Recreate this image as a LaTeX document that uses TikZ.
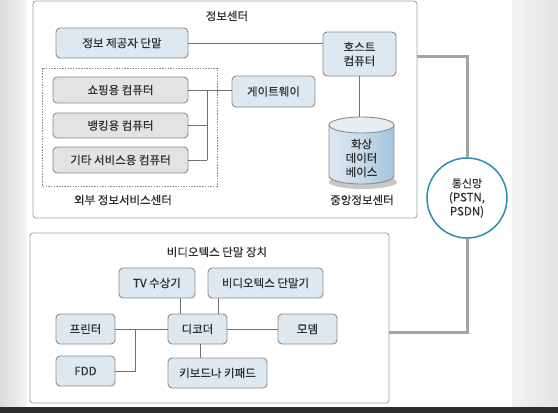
\documentclass[tikz,border=0pt]{standalone}
\usepackage{fontspec}
\setmainfont{Noto Sans CJK KR}[FakeBold=0.35]
\usetikzlibrary{calc}
\definecolor{txt}{HTML}{2E2E2E}
\definecolor{bfill}{HTML}{DDE8F1}
\definecolor{gfill}{HTML}{E3E3E3}
\definecolor{bord}{HTML}{8C8C8C}
\definecolor{frame}{HTML}{A4A4A4}
\definecolor{wire}{HTML}{707070}
\definecolor{thick}{HTML}{A3A3A3}
\definecolor{teal}{HTML}{2A8FAA}
\definecolor{dbdark}{HTML}{A2C4DC}
\tikzset{
  lbl/.style={font=\fontsize{11.5}{14}\selectfont, text=txt, inner sep=0pt, align=center},
  bluebox/.style={lbl, draw=bord, line width=0.9pt, fill=bfill, rounded corners=4pt},
  graybox/.style={lbl, draw=bord, line width=0.9pt, fill=gfill, rounded corners=4pt},
  outerframe/.style={draw=frame, line width=0.9pt, fill=white, rounded corners=3pt, inner sep=0pt},
  conn/.style={draw=wire, line width=0.8pt},
  trunk/.style={draw=thick, line width=3pt},
}
\begin{document}
\begin{tikzpicture}[x=1pt,y=-1pt]
\useasboundingbox (0,0) rectangle (558,413);
% background
\shade[left color=black!14, right color=black!4] (0,0) rectangle (27,407);
\shade[left color=black!5, right color=black!11] (512,0) rectangle (558,407);
\fill[white] (27,0) rectangle (512,407);
\fill[black!82] (0,407) rectangle (558,413);

% frames
\node[outerframe, minimum width=384pt, minimum height=217pt] (topbox) at (225,109.5) {};
\node[outerframe, minimum width=359pt, minimum height=170pt] (botbox) at (209.5,318) {};
\draw[bord, line width=0.8pt, dash pattern=on 1.5pt off 1.2pt] (42,68) rectangle (217,186);

% titles and captions
\node[lbl] (t1) at (227,16) {정보센터};
\node[lbl] (t2) at (123,200) {외부 정보서비스센터};
\node[lbl] (t3) at (362,200) {중앙정보센터};
\node[lbl] (t4) at (217,252) {비디오텍스 단말 장치};

% top boxes
\node[bluebox, minimum width=132pt, minimum height=30pt] (info) at (122,43) {정보 제공자 단말};
\node[bluebox, minimum width=73pt, minimum height=44pt] (host) at (359.5,54) {호스트\\컴퓨터};
\node[graybox, minimum width=135pt, minimum height=26pt] (shop) at (120.5,90) {쇼핑용 컴퓨터};
\node[graybox, minimum width=135pt, minimum height=25pt] (bank) at (120.5,125.5) {뱅킹용 컴퓨터};
\node[graybox, minimum width=135pt, minimum height=26pt] (etc) at (120.5,160) {기타 서비스용 컴퓨터};
\node[bluebox, minimum width=83pt, minimum height=31pt] (gw) at (273.5,91.5) {게이트웨이};

% database cylinder
\fill[black!22] (363,182) ellipse[x radius=34pt, y radius=7pt];
\shade[left color=bfill, right color=dbdark, middle color=bfill!60!dbdark] (329,125) -- (329,176)
  arc[start angle=180, end angle=360, x radius=32.5pt, y radius=8pt] -- (394,125)
  arc[start angle=0, end angle=180, x radius=32.5pt, y radius=8pt] -- cycle;
\draw[bord, line width=0.9pt] (329,125) -- (329,176)
  arc[start angle=180, end angle=360, x radius=32.5pt, y radius=8pt] -- (394,125);
\draw[bord, line width=0.9pt, fill=bfill!80!white] (361.5,125) ellipse[x radius=32.5pt, y radius=8pt];
\coordinate (dbtop) at (361.5,117);
\node[lbl] (db) at (361.5,158) {\fontsize{11.5}{15}\selectfont 화상\\데이터\\베이스};

% bottom boxes
\node[bluebox, minimum width=76pt, minimum height=30pt] (tv) at (157,283) {TV 수상기};
\node[bluebox, minimum width=115pt, minimum height=30pt] (vt) at (265.5,283) {비디오텍스 단말기};
\node[bluebox, minimum width=59pt, minimum height=30pt] (prn) at (85.5,329) {프린터};
\node[bluebox, minimum width=59pt, minimum height=30pt] (dec) at (197.5,329) {디코더};
\node[bluebox, minimum width=59pt, minimum height=30pt] (modem) at (307.5,329) {모뎀};
\node[bluebox, minimum width=59pt, minimum height=30pt] (fdd) at (85.5,371) {FDD};
\node[bluebox, minimum width=99pt, minimum height=30pt] (kb) at (217.5,373) {키보드나 키패드};

% network
\node[lbl, circle, draw=teal, line width=1.5pt, fill=white, minimum size=80pt] (net) at (467,198)
  {\fontsize{11}{15}\selectfont 통신망\\(PSTN,\\PSDN)};

% connectors top
\draw[conn] (info.east) -- (info.east -| host.west);
\draw[conn] (shop.east) -- (gw.west |- shop.east);
\draw[conn] (bank.east) -- (207,125.5);
\draw[conn] (etc.east) -- (207,160);
\draw[conn] (207,90) -- (207,160);
\draw[conn] (host.south) -- (host.south |- dbtop);

% connectors bottom
\draw[conn] (tv.south -| 180,0) -- (dec.north -| 180,0);
\draw[conn] (vt.south -| 218,0) -- (dec.north -| 218,0);
\draw[conn] (prn.east) -- (dec.west);
\draw[conn] (dec.east) -- (modem.west);
\draw[conn] (dec.south -| 200,0) -- (kb.north -| 200,0);
\draw[conn] (fdd.east) -- (135,371) -- (135,329);

% trunk
\draw[trunk] (topbox.east |- 0,56) -- (net.north |- 0,56) -- (net.north);
\draw[trunk] (net.south) -- (net.south |- 0,332) -- (botbox.east |- 0,332);
\end{tikzpicture}
\end{document}
